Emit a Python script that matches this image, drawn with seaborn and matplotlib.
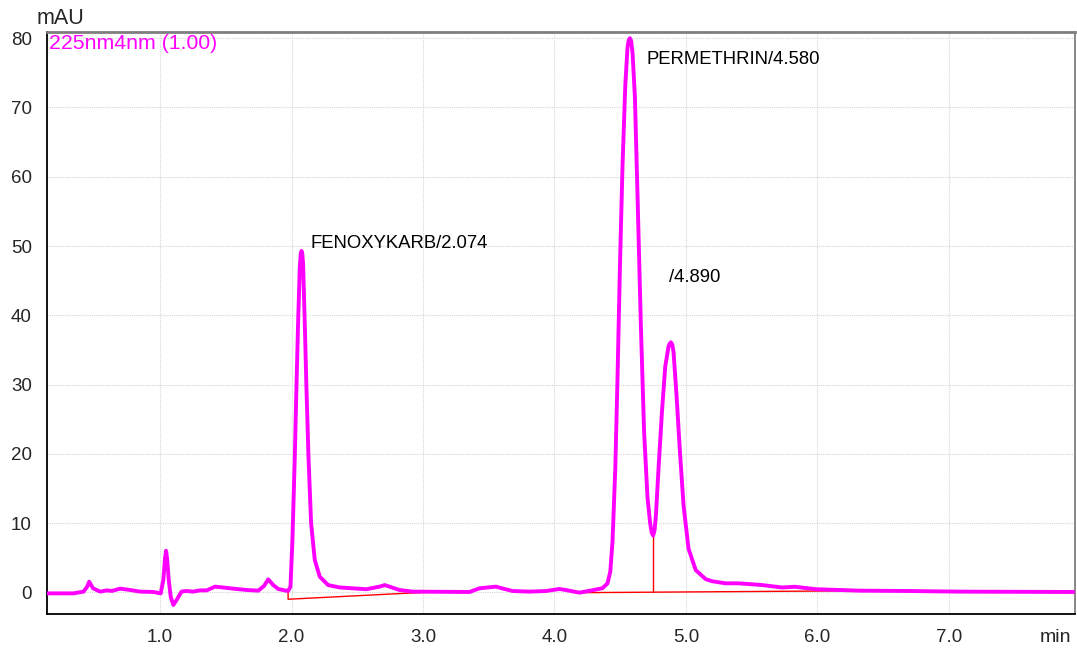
import matplotlib
matplotlib.use("Agg")
import matplotlib.pyplot as plt
from matplotlib.ticker import MultipleLocator, FixedLocator
import seaborn as sns
import pandas as pd

# ---- data ----
time_min = [0.14, 0.34, 0.418, 0.445, 0.461, 0.49, 0.544, 0.595, 0.633, 0.696, 0.772, 0.848,
            0.95, 1.005, 1.025, 1.038, 1.046, 1.054, 1.066, 1.081, 1.101, 1.126, 1.163, 1.2, 1.251, 1.304,
            1.355, 1.418, 1.468, 1.557, 1.658, 1.747, 1.79, 1.823, 1.861, 1.899, 1.957, 1.974,
            1.992, 2.007, 2.025, 2.037, 2.05, 2.063, 2.07, 2.076, 2.082, 2.088, 2.101, 2.114, 2.129, 2.149,
            2.177, 2.215, 2.278, 2.367, 2.57, 2.67, 2.709, 2.822, 2.923, 3.354, 3.43, 3.556,
            3.6, 3.683, 3.81, 3.937, 4.037, 4.088, 4.19, 4.29, 4.366, 4.404, 4.425, 4.442,
            4.463, 4.48, 4.498, 4.518, 4.539, 4.556, 4.565, 4.574, 4.584, 4.594, 4.612, 4.632, 4.657, 4.682,
            4.708, 4.728, 4.74, 4.751, 4.762, 4.772, 4.792, 4.817, 4.843, 4.868, 4.877, 4.886, 4.896, 4.906, 4.929, 4.954,
            4.982, 5.02, 5.075, 5.151, 5.2, 5.3, 5.4, 5.58, 5.73, 5.83, 5.99, 6.32, 6.7, 7.08, 7.95]
absorbance_mau = [-0.15, -0.15, 0.1, 0.8, 1.53, 0.58, 0.1, 0.28, 0.2, 0.53, 0.34, 0.1,
                  0.05, -0.15, 1.8, 5.0, 6.0, 4.8, 1.8, -0.63, -1.83, -1.1, 0.1, 0.2, 0.1, 0.28,
                  0.28, 0.82, 0.72, 0.53, 0.34, 0.24, 0.9, 1.87, 1.05, 0.48, 0.24, 0.2,
                  0.8, 7.55, 19.6, 29.2, 38.8, 47.0, 48.8, 49.3, 48.9, 47.5, 38.8, 29.2, 19.6, 10.0,
                  4.66, 2.26, 1.05, 0.7, 0.45, 0.82, 1.05, 0.33, 0.1, 0.05, 0.58, 0.82,
                  0.58, 0.19, 0.1, 0.19, 0.48, 0.33, -0.05, 0.3, 0.6, 1.3, 3.0, 7.4,
                  17.9, 31.1, 46.8, 61.6, 73.2, 78.7, 79.7, 80.0, 79.6, 77.9, 71.6, 57.4, 38.9, 23.2,
                  13.7, 10.0, 8.6, 8.2, 9.0, 11.1, 17.9, 25.8, 32.6, 35.5, 35.9, 36.1, 35.8, 34.7, 28.4, 20.5,
                  12.6, 6.3, 3.2, 1.9, 1.6, 1.3, 1.3, 1.05, 0.7, 0.8, 0.45, 0.24, 0.19, 0.1, 0.05]

# integration baselines (red)
base1_t = [1.974, 1.974, 3.063]
base1_v = [0.2, -1.0, 0.05]
base2_t = [4.19, 6.53]
base2_v = [-0.05, 0.25]
drop_t = [4.751, 4.751]
drop_v = [0.1, 8.2]

peak_labels = ["FENOXYKARB/2.074", "PERMETHRIN/4.580", "/4.890"]
label_t = [2.148, 4.698, 4.873]
label_v = [50.3, 77.0, 45.5]

x_ticks = [1.0, 2.0, 3.0, 4.0, 5.0, 6.0, 7.0]
y_ticks = [0, 10, 20, 30, 40, 50, 60, 70, 80]

# ---- plot ----
sns.set_style("white")
plt.rcParams['font.family'] = ['Liberation Sans', 'DejaVu Sans']

fig = plt.figure(figsize=(10.77, 6.49), dpi=100)
ax = fig.add_axes([47 / 1077, 1 - 614 / 649, (1075 - 47) / 1077, (614 - 32) / 649])

df = pd.DataFrame({"t": time_min, "v": absorbance_mau})
ax.grid(True, which="major", color="#d6d6d6", linestyle=(0, (1, 1)), linewidth=0.8)
ax.set_axisbelow(True)

ax.plot(base1_t, base1_v, color="red", linewidth=1.0, zorder=2)
ax.plot(base2_t, base2_v, color="red", linewidth=1.0, zorder=2)
ax.plot(drop_t, drop_v, color="red", linewidth=1.0, zorder=2)

sns.lineplot(data=df, x="t", y="v", ax=ax, color="#ff00ff", linewidth=2.8,
             estimator=None, sort=False, zorder=3, solid_joinstyle="round",
             solid_capstyle="round")

for lab, t, v in zip(peak_labels, label_t, label_v):
    ax.text(t, v, lab, fontsize=13.3, color="black", ha="left", va="center")

ax.text(0.002, 0.997, "225nm4nm (1.00)", transform=ax.transAxes, color="#ff00ff",
        fontsize=15.3, ha="left", va="top")

ax.set_xlim(0.14, 7.96)
ax.set_ylim(-3.13, 80.9)
ax.xaxis.set_major_locator(FixedLocator(x_ticks))
ax.xaxis.set_minor_locator(MultipleLocator(0.2))
ax.yaxis.set_major_locator(FixedLocator(y_ticks))
ax.yaxis.set_minor_locator(MultipleLocator(2))
ax.set_xticklabels([f"{t:.1f}" for t in x_ticks])
ax.set_yticklabels([str(t) for t in y_ticks])
ax.tick_params(axis="both", which="major", direction="out", length=8, width=1.2,
               labelsize=13.5, color="black", pad=3)
ax.tick_params(axis="both", which="minor", direction="out", length=5, width=1.0, color="black")
ax.set_xlabel("")
ax.set_ylabel("")

for side in ["left", "bottom"]:
    ax.spines[side].set_color("black")
    ax.spines[side].set_linewidth(1.3)
ax.spines["top"].set_color("#7f7f7f")
ax.spines["top"].set_linewidth(2.0)
ax.spines["right"].set_color("#7f7f7f")
ax.spines["right"].set_linewidth(1.3)

fig.text(60 / 1077, 1 - 18 / 649, "mAU", fontsize=15.5, ha="center", va="center")
fig.text(1055 / 1077, 1 - 637 / 649, "min", fontsize=14, ha="center", va="center")

fig.savefig("out.png", dpi=100)
